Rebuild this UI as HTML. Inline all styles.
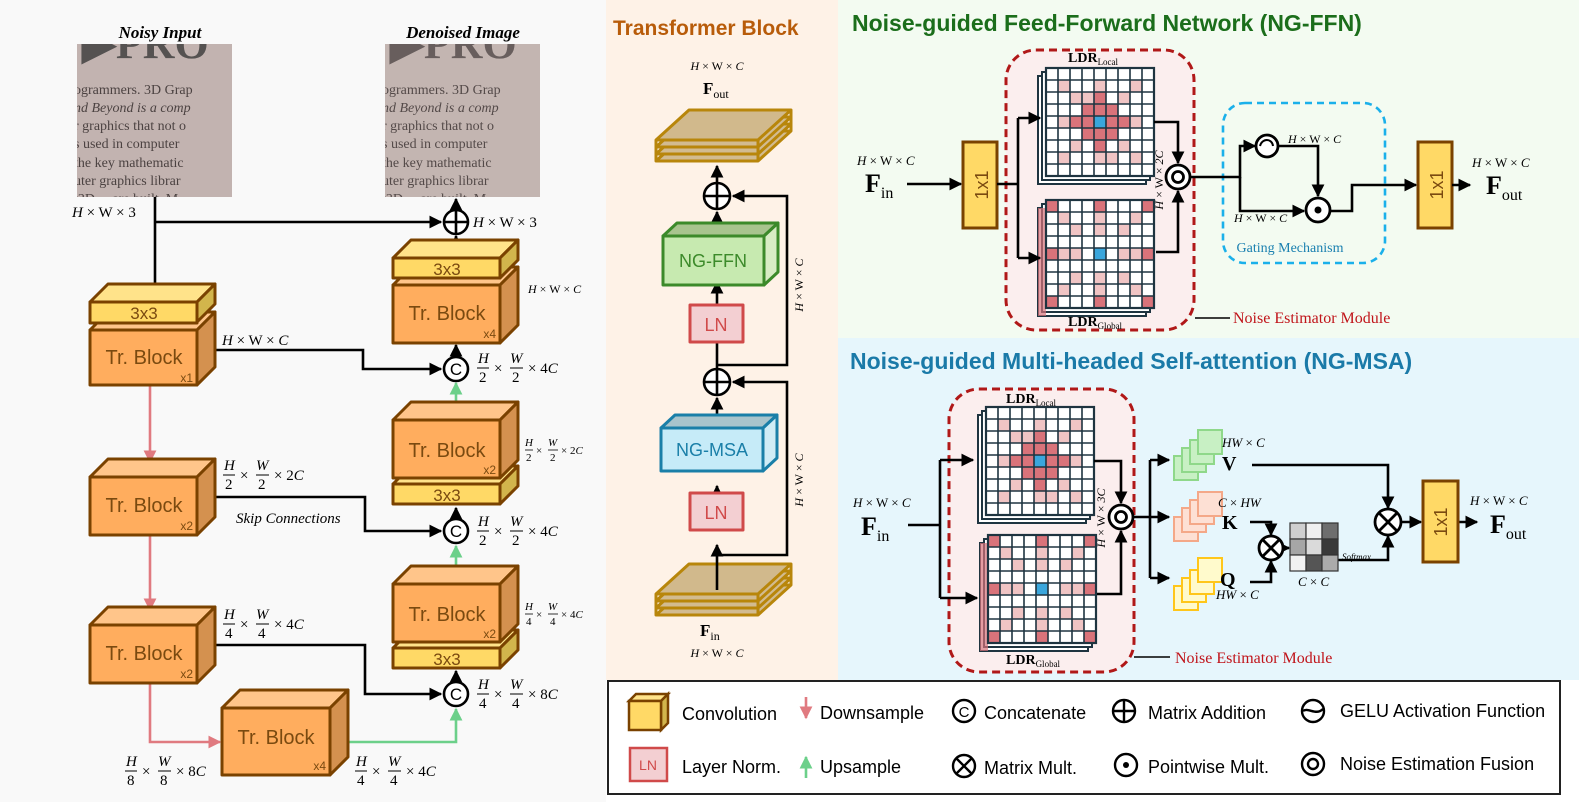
<!DOCTYPE html>
<html><head><meta charset="utf-8"><style>
html,body{margin:0;padding:0;background:#fff}
svg{display:block}
.s{font-family:"Liberation Sans",sans-serif}
.m{font-family:"Liberation Serif",serif;font-style:italic}
.r{font-family:"Liberation Serif",serif}
</style></head><body>
<svg width="1579" height="802" viewBox="0 0 1579 802" xmlns="http://www.w3.org/2000/svg">
<defs>
<marker id="a" viewBox="0 0 10 10" refX="9" refY="5" markerWidth="5" markerHeight="5" orient="auto"><path d="M0,0L10,5L0,10z" fill="#000"/></marker>
<marker id="ap" viewBox="0 0 10 10" refX="9" refY="5" markerWidth="5" markerHeight="5" orient="auto"><path d="M0,0L10,5L0,10z" fill="#e07a80"/></marker>
<marker id="ag" viewBox="0 0 10 10" refX="9" refY="5" markerWidth="5" markerHeight="5" orient="auto"><path d="M0,0L10,5L0,10z" fill="#6cd08a"/></marker>
<g id="gbase">
<rect x="-8" y="8" width="108" height="108" fill="#fff" stroke="#1e3440" stroke-width="2"/>
<rect x="-4" y="4" width="108" height="108" fill="#fff" stroke="#1e3440" stroke-width="2"/>
<rect x="0" y="0" width="108" height="108" fill="#fff"/>
</g>
<g id="glines" stroke="#1e3440" stroke-width="1.6" fill="none">
<path d="M12,0V108M24,0V108M36,0V108M48,0V108M60,0V108M72,0V108M84,0V108M96,0V108M0,12H108M0,24H108M0,36H108M0,48H108M0,60H108M0,72H108M0,84H108M0,96H108"/>
<rect x="0" y="0" width="108" height="108" stroke-width="2.2"/>
</g>
<g id="gloc">
<use href="#gbase"/>
<g fill="#d9737a"><rect x="36" y="36" width="36" height="36"/><rect x="48" y="24" width="12" height="12"/><rect x="48" y="72" width="12" height="12"/><rect x="24" y="48" width="12" height="12"/><rect x="72" y="48" width="12" height="12"/></g>
<g fill="#f0c4c4"><rect x="24" y="24" width="12" height="12"/><rect x="72" y="24" width="12" height="12"/><rect x="24" y="72" width="12" height="12"/><rect x="72" y="72" width="12" height="12"/><rect x="12" y="12" width="12" height="12"/><rect x="84" y="12" width="12" height="12"/><rect x="12" y="84" width="12" height="12"/><rect x="84" y="84" width="12" height="12"/><rect x="48" y="12" width="12" height="12"/><rect x="48" y="84" width="12" height="12"/><rect x="12" y="48" width="12" height="12"/><rect x="84" y="48" width="12" height="12"/><rect x="36" y="24" width="12" height="12"/><rect x="60" y="84" width="12" height="12"/></g>
<rect x="48" y="48" width="12" height="12" fill="#3aa6dc"/>
<use href="#glines"/>
</g>
<g id="gglo">
<use href="#gbase"/>
<rect x="-8" y="8" width="8" height="108" fill="#d9737a" opacity=".7"/>
<g fill="#d9737a"><rect x="0" y="0" width="12" height="12"/><rect x="48" y="0" width="12" height="12"/><rect x="96" y="0" width="12" height="12"/><rect x="0" y="48" width="12" height="12"/><rect x="96" y="48" width="12" height="12"/><rect x="0" y="96" width="12" height="12"/><rect x="48" y="96" width="12" height="12"/><rect x="96" y="96" width="12" height="12"/></g>
<g fill="#f0c4c4"><rect x="12" y="12" width="12" height="12"/><rect x="48" y="12" width="12" height="12"/><rect x="84" y="12" width="12" height="12"/><rect x="24" y="24" width="12" height="12"/><rect x="48" y="24" width="12" height="12"/><rect x="72" y="24" width="12" height="12"/><rect x="12" y="48" width="12" height="12"/><rect x="24" y="48" width="12" height="12"/><rect x="72" y="48" width="12" height="12"/><rect x="84" y="48" width="12" height="12"/><rect x="24" y="72" width="12" height="12"/><rect x="48" y="72" width="12" height="12"/><rect x="72" y="72" width="12" height="12"/><rect x="12" y="84" width="12" height="12"/><rect x="48" y="84" width="12" height="12"/><rect x="84" y="84" width="12" height="12"/></g>
<rect x="48" y="48" width="12" height="12" fill="#3aa6dc"/>
<use href="#glines"/>
</g>
<g id="plates" stroke="#b8860b" stroke-width="3" fill="#d2bb90" stroke-linejoin="round">
<path d="M0,57L33,27H135L102,57Z"/>
<path d="M0,50L33,20H135L102,50Z"/>
<path d="M0,43L33,13H135L102,43Z"/>
<path d="M0,36L33,6H135L102,36Z" fill="#d1b98c"/>
<path d="M0,36V57M102,36V57M135,6V27"/>
</g>
</defs>

<!-- backgrounds -->
<rect x="0" y="0" width="606" height="802" fill="#f9f9f9"/>
<rect x="606" y="0" width="232" height="680" fill="#fef2e7"/>
<rect x="838" y="0" width="741" height="338" fill="#f3fbf1"/>
<rect x="838" y="338" width="741" height="342" fill="#e6f6fc"/>
<rect x="606" y="680" width="973" height="122" fill="#fff"/>

<!-- ========== LEFT PANEL ========== -->
<text x="160" y="38" text-anchor="middle" class="r" font-weight="bold" font-style="italic" font-size="17">Noisy Input</text>
<text x="463" y="38" text-anchor="middle" class="r" font-weight="bold" font-style="italic" font-size="17">Denoised Image</text>
<clipPath id="c1"><rect x="77" y="44" width="155" height="153"/></clipPath>
<clipPath id="c2"><rect x="385" y="44" width="155" height="153"/></clipPath>
<g clip-path="url(#c1)">
<rect x="77" y="44" width="155" height="153" fill="#c2b3b0"/>
<g class="r" fill="#2e2626" opacity=".8" font-size="14">
<text x="82" y="58" font-size="44" font-weight="bold" fill="#3a3a3a">▶PRO</text>
<text x="74" y="94">ogrammers. 3D Grap</text><text x="74" y="112" font-style="italic">nd Beyond is a comp</text><text x="74" y="130">r graphics that not o</text><text x="74" y="148">s used in computer</text><text x="74" y="167">the key mathematic</text><text x="74" y="185">uter graphics librar</text><text x="74" y="203">t3D— are built. M</text></g>
</g>
<g clip-path="url(#c2)">
<rect x="385" y="44" width="155" height="153" fill="#c3b5b1"/>
<g class="r" fill="#2e2626" opacity=".75" font-size="14">
<text x="390" y="58" font-size="44" font-weight="bold" fill="#4a4242">▶PRO</text>
<text x="382" y="94">ogrammers. 3D Grap</text><text x="382" y="112" font-style="italic">nd Beyond is a comp</text><text x="382" y="130">r graphics that not o</text><text x="382" y="148">s used in computer</text><text x="382" y="167">the key mathematic</text><text x="382" y="185">uter graphics librar</text><text x="382" y="203">t3D— are built. M</text></g>
</g>

<g stroke="#000" stroke-width="2.6" fill="none">
<path d="M155,197V294" marker-end="url(#a)"/>
<path d="M155,222H441" marker-end="url(#a)"/>
<path d="M456,240V236" marker-end="url(#a)"/>
<path d="M456,210V199" marker-end="url(#a)"/>
<path d="M207,350H363V369H441" marker-end="url(#a)"/>
<path d="M207,497H365V531H441" marker-end="url(#a)"/>
<path d="M207,645H365V694H441" marker-end="url(#a)"/>
<path d="M456,353V345" marker-end="url(#a)"/>
<path d="M456,516V508" marker-end="url(#a)"/>
<path d="M456,679V671" marker-end="url(#a)"/>
</g>
<g stroke="#e07a80" stroke-width="2.6" fill="none">
<path d="M150,385V462" marker-end="url(#ap)"/>
<path d="M150,535V610" marker-end="url(#ap)"/>
<path d="M150,683V742H220" marker-end="url(#ap)"/>
</g>
<g stroke="#6cd08a" stroke-width="2.6" fill="none">
<path d="M456,405V383" marker-end="url(#ag)"/>
<path d="M456,570V546" marker-end="url(#ag)"/>
<path d="M340,742H456V709" marker-end="url(#ag)"/>
</g>

<g stroke="#7a4200" stroke-width="3" stroke-linejoin="round">
<path d="M90,330L108,312H215L197,330Z" fill="#ffc58a"/><path d="M197,330L215,312V367L197,385Z" fill="#d4914f"/><rect x="90" y="330" width="107" height="55" fill="#ffad5e"/>
<path d="M90,302L108,284H215L197,302Z" fill="#ffe38a"/><path d="M197,302L215,284V304L197,322Z" fill="#d2b54c"/><rect x="90" y="302" width="107" height="21" fill="#ffd966"/>
<path d="M90,477L108,459H215L197,477Z" fill="#ffc58a"/><path d="M197,477L215,459V517L197,535Z" fill="#d4914f"/><rect x="90" y="477" width="107" height="58" fill="#ffad5e"/>
<path d="M90,625L108,607H215L197,625Z" fill="#ffc58a"/><path d="M197,625L215,607V665L197,683Z" fill="#d4914f"/><rect x="90" y="625" width="107" height="58" fill="#ffad5e"/>
<path d="M222,708L240,690H348L330,708Z" fill="#ffc58a"/><path d="M330,708L348,690V757L330,775Z" fill="#d4914f"/><rect x="222" y="708" width="108" height="67" fill="#ffad5e"/>
<path d="M393,285L411,267H518L500,285Z" fill="#ffc58a"/><path d="M500,285L518,267V325L500,343Z" fill="#d4914f"/><rect x="393" y="285" width="107" height="58" fill="#ffad5e"/>
<path d="M393,258L411,240H518L500,258Z" fill="#ffe38a"/><path d="M500,258L518,240V260L500,278Z" fill="#d2b54c"/><rect x="393" y="258" width="107" height="20" fill="#ffd966"/>
<path d="M393,484L411,466H518L500,484Z" fill="#ffe38a"/><path d="M500,484L518,466V486L500,504Z" fill="#d2b54c"/><rect x="393" y="484" width="107" height="20" fill="#ffd966"/>
<path d="M393,420L411,402H518L500,420Z" fill="#ffc58a"/><path d="M500,420L518,402V460L500,478Z" fill="#d4914f"/><rect x="393" y="420" width="107" height="58" fill="#ffad5e"/>
<path d="M393,648L411,630H518L500,648Z" fill="#ffe38a"/><path d="M500,648L518,630V650L500,668Z" fill="#d2b54c"/><rect x="393" y="648" width="107" height="20" fill="#ffd966"/>
<path d="M393,584L411,566H518L500,584Z" fill="#ffc58a"/><path d="M500,584L518,566V624L500,642Z" fill="#d4914f"/><rect x="393" y="584" width="107" height="58" fill="#ffad5e"/>
</g>
<g class="s" fill="#7a4a10">
<text x="144" y="319" text-anchor="middle" font-size="17">3x3</text>
<text x="144" y="364" text-anchor="middle" font-size="20">Tr. Block</text><text x="193" y="382" text-anchor="end" font-size="12">x1</text>
<text x="144" y="512" text-anchor="middle" font-size="20">Tr. Block</text><text x="193" y="530" text-anchor="end" font-size="12">x2</text>
<text x="144" y="660" text-anchor="middle" font-size="20">Tr. Block</text><text x="193" y="678" text-anchor="end" font-size="12">x2</text>
<text x="276" y="744" text-anchor="middle" font-size="20">Tr. Block</text><text x="326" y="770" text-anchor="end" font-size="12">x4</text>
<text x="447" y="275" text-anchor="middle" font-size="17">3x3</text>
<text x="447" y="320" text-anchor="middle" font-size="20">Tr. Block</text><text x="496" y="338" text-anchor="end" font-size="12">x4</text>
<text x="447" y="457" text-anchor="middle" font-size="20">Tr. Block</text><text x="496" y="474" text-anchor="end" font-size="12">x2</text>
<text x="447" y="501" text-anchor="middle" font-size="17">3x3</text>
<text x="447" y="621" text-anchor="middle" font-size="20">Tr. Block</text><text x="496" y="638" text-anchor="end" font-size="12">x2</text>
<text x="447" y="665" text-anchor="middle" font-size="17">3x3</text>
</g>
<g stroke="#000" stroke-width="2.6" fill="#fff">
<circle cx="456" cy="222" r="12"/><path d="M444,222H468M456,210V234" fill="none"/>
<circle cx="456" cy="369" r="12"/><circle cx="456" cy="531" r="12"/><circle cx="456" cy="694" r="12"/>
</g>
<g class="s" font-size="17" text-anchor="middle"><text x="456" y="375">C</text><text x="456" y="537">C</text><text x="456" y="700">C</text></g>

<g class="m" font-size="15" fill="#000">
<text x="72" y="217">H <tspan font-style="normal">× W × 3</tspan></text>
<text x="473" y="227">H <tspan font-style="normal">× W × 3</tspan></text>
<text x="222" y="345">H <tspan font-style="normal">× W ×</tspan> C</text>
<text x="528" y="293" font-size="12">H <tspan font-style="normal">× W ×</tspan> C</text>
<text x="236" y="523">Skip Connections</text>
</g>
<g class="m" fill="#000" font-size="15">
<g transform="translate(478,368)"><text x="0" y="-5">H</text><path d="M-1,0H11" stroke="#000"/><text x="1" y="14" font-style="normal">2</text><text x="16" y="5" font-style="normal">×</text><text x="32" y="-5">W</text><path d="M32,0H45" stroke="#000"/><text x="34" y="14" font-style="normal">2</text><text x="50" y="5" font-style="normal">× 4<tspan font-style="italic">C</tspan></text></g>
<g transform="translate(478,531)"><text x="0" y="-5">H</text><path d="M-1,0H11" stroke="#000"/><text x="1" y="14" font-style="normal">2</text><text x="16" y="5" font-style="normal">×</text><text x="32" y="-5">W</text><path d="M32,0H45" stroke="#000"/><text x="34" y="14" font-style="normal">2</text><text x="50" y="5" font-style="normal">× 4<tspan font-style="italic">C</tspan></text></g>
<g transform="translate(478,694)"><text x="0" y="-5">H</text><path d="M-1,0H11" stroke="#000"/><text x="1" y="14" font-style="normal">4</text><text x="16" y="5" font-style="normal">×</text><text x="32" y="-5">W</text><path d="M32,0H45" stroke="#000"/><text x="34" y="14" font-style="normal">4</text><text x="50" y="5" font-style="normal">× 8<tspan font-style="italic">C</tspan></text></g>
<g transform="translate(224,475)"><text x="0" y="-5">H</text><path d="M-1,0H11" stroke="#000"/><text x="1" y="14" font-style="normal">2</text><text x="16" y="5" font-style="normal">×</text><text x="32" y="-5">W</text><path d="M32,0H45" stroke="#000"/><text x="34" y="14" font-style="normal">2</text><text x="50" y="5" font-style="normal">× 2<tspan font-style="italic">C</tspan></text></g>
<g transform="translate(224,624)"><text x="0" y="-5">H</text><path d="M-1,0H11" stroke="#000"/><text x="1" y="14" font-style="normal">4</text><text x="16" y="5" font-style="normal">×</text><text x="32" y="-5">W</text><path d="M32,0H45" stroke="#000"/><text x="34" y="14" font-style="normal">4</text><text x="50" y="5" font-style="normal">× 4<tspan font-style="italic">C</tspan></text></g>
<g transform="translate(126,771)"><text x="0" y="-5">H</text><path d="M-1,0H11" stroke="#000"/><text x="1" y="14" font-style="normal">8</text><text x="16" y="5" font-style="normal">×</text><text x="32" y="-5">W</text><path d="M32,0H45" stroke="#000"/><text x="34" y="14" font-style="normal">8</text><text x="50" y="5" font-style="normal">× 8<tspan font-style="italic">C</tspan></text></g>
<g transform="translate(356,771)"><text x="0" y="-5">H</text><path d="M-1,0H11" stroke="#000"/><text x="1" y="14" font-style="normal">4</text><text x="16" y="5" font-style="normal">×</text><text x="32" y="-5">W</text><path d="M32,0H45" stroke="#000"/><text x="34" y="14" font-style="normal">4</text><text x="50" y="5" font-style="normal">× 4<tspan font-style="italic">C</tspan></text></g>
<g transform="translate(525,450)" font-size="11"><text x="0" y="-4">H</text><path d="M0,0H8" stroke="#000" stroke-width=".8"/><text x="1" y="11" font-style="normal">2</text><text x="11" y="4" font-style="normal">×</text><text x="23" y="-4">W</text><path d="M23,0H33" stroke="#000" stroke-width=".8"/><text x="25" y="11" font-style="normal">2</text><text x="36" y="4" font-style="normal">× 2<tspan font-style="italic">C</tspan></text></g>
<g transform="translate(525,614)" font-size="11"><text x="0" y="-4">H</text><path d="M0,0H8" stroke="#000" stroke-width=".8"/><text x="1" y="11" font-style="normal">4</text><text x="11" y="4" font-style="normal">×</text><text x="23" y="-4">W</text><path d="M23,0H33" stroke="#000" stroke-width=".8"/><text x="25" y="11" font-style="normal">4</text><text x="36" y="4" font-style="normal">× 4<tspan font-style="italic">C</tspan></text></g>
</g>

<!-- ========== MIDDLE ========== -->
<text x="613" y="35" class="s" font-weight="bold" font-size="21" fill="#b85c0a">Transformer Block</text>
<text x="717" y="70" text-anchor="middle" class="m" font-size="12">H <tspan font-style="normal">× W ×</tspan> C</text>
<text x="703" y="94" class="r" font-weight="bold" font-size="17">F<tspan font-size="12" font-weight="normal" dy="4">out</tspan></text>
<use href="#plates" transform="translate(656,104)"/>
<use href="#plates" transform="translate(656,558)"/>
<text x="700" y="636" class="r" font-weight="bold" font-size="17">F<tspan font-size="12" font-weight="normal" dy="4">in</tspan></text>
<text x="717" y="657" text-anchor="middle" class="m" font-size="12">H <tspan font-style="normal">× W ×</tspan> C</text>
<g stroke="#000" stroke-width="2.6" fill="none">
<path d="M717,590V545" marker-end="url(#a)"/>
<path d="M717,493V486" marker-end="url(#a)"/>
<path d="M717,414V398" marker-end="url(#a)"/>
<path d="M717,305V282" marker-end="url(#a)"/>
<path d="M717,223V212" marker-end="url(#a)"/>
<path d="M717,183V166" marker-end="url(#a)"/>
<path d="M717,555H787V382H733" marker-end="url(#a)"/>
<path d="M717,365H787V196H733" marker-end="url(#a)"/>
<path d="M717,369V342"/>
</g>
<g stroke="#000" stroke-width="2.6" fill="#fff">
<circle cx="717" cy="196" r="13"/><path d="M704,196H730M717,183V209" fill="none"/>
<circle cx="717" cy="382" r="13"/><path d="M704,382H730M717,369V395" fill="none"/>
</g>
<g stroke-width="3" stroke-linejoin="round">
<g stroke="#3c8a2a"><path d="M663,236L677,223H778L764,236Z" fill="#a8c48e"/><path d="M764,236L778,223V272L764,285Z" fill="#d8ecc4"/><rect x="663" y="236" width="101" height="49" fill="#c7eab0"/></g>
<g stroke="#1a7fa8"><path d="M661,428L675,415H777L763,428Z" fill="#a8c4cc"/><path d="M763,428L777,415V458L763,471Z" fill="#d0ecf6"/><rect x="661" y="428" width="102" height="43" fill="#c6ebf8"/></g>
<g stroke="#d04a4a" fill="#f3cfd2"><rect x="690" y="305" width="53" height="37"/><rect x="690" y="493" width="53" height="37"/></g>
</g>
<g class="s" text-anchor="middle" font-size="18">
<text x="713" y="267" fill="#3c8a2a">NG-FFN</text>
<text x="712" y="456" fill="#1a7fa8">NG-MSA</text>
<text x="716" y="331" fill="#d04a4a">LN</text>
<text x="716" y="519" fill="#d04a4a">LN</text>
</g>
<text transform="translate(803,285) rotate(-90)" text-anchor="middle" class="m" font-size="12">H <tspan font-style="normal">× W ×</tspan> C</text>
<text transform="translate(803,480) rotate(-90)" text-anchor="middle" class="m" font-size="12">H <tspan font-style="normal">× W ×</tspan> C</text>

<!-- ========== NG-FFN ========== -->
<text x="852" y="31" class="s" font-weight="bold" font-size="23" fill="#1b6e1b">Noise-guided Feed-Forward Network (NG-FFN)</text>
<rect x="1006" y="50" width="188" height="280" rx="30" fill="#fbeeee" stroke="#b01818" stroke-width="3" stroke-dasharray="8,5"/>
<rect x="1223" y="103" width="162" height="160" rx="22" fill="none" stroke="#1ab0ea" stroke-width="2.6" stroke-dasharray="7,5"/>
<text x="1290" y="252" text-anchor="middle" class="r" font-size="14" fill="#1a80b0">Gating Mechanism</text>
<use href="#gloc" transform="translate(1046,68)"/>
<use href="#gglo" transform="translate(1046,200)"/>
<text x="1068" y="62" class="r" font-weight="bold" font-size="14">LDR<tspan font-size="9" font-weight="normal" dy="3">Local</tspan></text>
<text x="1068" y="326" class="r" font-weight="bold" font-size="14">LDR<tspan font-size="9" font-weight="normal" dy="3">Global</tspan></text>
<text x="857" y="165" class="m" font-size="13">H <tspan font-style="normal">× W ×</tspan> C</text>
<text x="865" y="192" class="r" font-weight="bold" font-size="26">F<tspan font-size="16" font-weight="normal" dy="6">in</tspan></text>
<text x="1472" y="167" class="m" font-size="13">H <tspan font-style="normal">× W ×</tspan> C</text>
<text x="1486" y="194" class="r" font-weight="bold" font-size="26">F<tspan font-size="16" font-weight="normal" dy="6">out</tspan></text>
<g stroke="#7a4200" stroke-width="3" fill="#ffd966"><rect x="963" y="142" width="34" height="86"/><rect x="1418" y="142" width="34" height="86"/></g>
<text transform="translate(988,185) rotate(-90)" text-anchor="middle" class="s" font-size="18" fill="#7a4a10">1x1</text>
<text transform="translate(1443,185) rotate(-90)" text-anchor="middle" class="s" font-size="18" fill="#7a4a10">1x1</text>
<g stroke="#000" stroke-width="2.6" fill="none">
<path d="M907,184H961" marker-end="url(#a)"/>
<path d="M997,184H1018"/><path d="M1018,118V258"/>
<path d="M1018,118H1040" marker-end="url(#a)"/>
<path d="M1018,258H1040" marker-end="url(#a)"/>
<path d="M1154,122H1178V163" marker-end="url(#a)"/>
<path d="M1156,252H1178V191" marker-end="url(#a)"/>
<path d="M1190,177H1240V146H1255" marker-end="url(#a)"/>
<path d="M1240,177V211H1304" marker-end="url(#a)"/>
<path d="M1279,146H1318V196" marker-end="url(#a)"/>
<path d="M1330,211H1352V185H1416" marker-end="url(#a)"/>
<path d="M1452,185H1470" marker-end="url(#a)"/>
<path d="M1195,318H1230" stroke-width="1.4"/>
</g>
<text x="1233" y="323" class="r" font-size="16" fill="#c0141a">Noise Estimator Module</text>
<text transform="translate(1163,180) rotate(-90)" text-anchor="middle" class="m" font-size="12">H <tspan font-style="normal">× W ×</tspan> 2C</text>
<g stroke="#000" stroke-width="2.8" fill="#fff">
<circle cx="1178" cy="177" r="12"/><circle cx="1178" cy="177" r="5.5"/>
<circle cx="1267" cy="146" r="11"/><path d="M1260,146C1262,138 1272,138 1273,146" fill="none" stroke-width="2"/>
<circle cx="1318" cy="210" r="12"/>
</g>
<circle cx="1318" cy="210" r="3.5"/>
<text x="1288" y="143" class="m" font-size="12">H <tspan font-style="normal">× W ×</tspan> C</text>
<text x="1234" y="222" class="m" font-size="12">H <tspan font-style="normal">× W ×</tspan> C</text>

<!-- ========== NG-MSA ========== -->
<text x="850" y="369" class="s" font-weight="bold" font-size="23" fill="#1a7aa8">Noise-guided Multi-headed Self-attention (NG-MSA)</text>
<rect x="949" y="389" width="185" height="283" rx="30" fill="#fbeeee" stroke="#b01818" stroke-width="3" stroke-dasharray="8,5"/>
<use href="#gloc" transform="translate(986,407)"/>
<use href="#gglo" transform="translate(988,535)"/>
<text x="1006" y="403" class="r" font-weight="bold" font-size="14">LDR<tspan font-size="9" font-weight="normal" dy="3">Local</tspan></text>
<text x="1006" y="664" class="r" font-weight="bold" font-size="14">LDR<tspan font-size="9" font-weight="normal" dy="3">Global</tspan></text>
<text x="853" y="507" class="m" font-size="13">H <tspan font-style="normal">× W ×</tspan> C</text>
<text x="861" y="535" class="r" font-weight="bold" font-size="26">F<tspan font-size="16" font-weight="normal" dy="6">in</tspan></text>
<text x="1470" y="505" class="m" font-size="13">H <tspan font-style="normal">× W ×</tspan> C</text>
<text x="1490" y="533" class="r" font-weight="bold" font-size="26">F<tspan font-size="16" font-weight="normal" dy="6">out</tspan></text>
<text transform="translate(1105,518) rotate(-90)" text-anchor="middle" class="m" font-size="12">H <tspan font-style="normal">× W ×</tspan> 3C</text>
<g stroke="#000" stroke-width="2.6" fill="none">
<path d="M908,525H940"/><path d="M940,460V598"/>
<path d="M940,460H973" marker-end="url(#a)"/>
<path d="M940,598H977" marker-end="url(#a)"/>
<path d="M1094,461H1121V503" marker-end="url(#a)"/>
<path d="M1097,594H1121V531" marker-end="url(#a)"/>
<path d="M1133,517H1150"/><path d="M1150,460V578"/>
<path d="M1150,460H1169" marker-end="url(#a)"/>
<path d="M1150,517H1169" marker-end="url(#a)"/>
<path d="M1150,578H1169" marker-end="url(#a)"/>
<path d="M1252,465H1388V508" marker-end="url(#a)"/>
<path d="M1250,522H1271V535" marker-end="url(#a)"/>
<path d="M1250,582H1271V561" marker-end="url(#a)"/>
<path d="M1283,548H1289" marker-end="url(#a)"/>
<path d="M1338,560H1388V536" marker-end="url(#a)"/>
<path d="M1401,522H1421" marker-end="url(#a)"/>
<path d="M1458,522H1477" marker-end="url(#a)"/>
<path d="M1134,657H1170" stroke-width="1.4"/>
</g>
<text x="1175" y="663" class="r" font-size="16" fill="#c0141a">Noise Estimator Module</text>
<g stroke-width="2">
<g stroke="#8fd88a" fill="#c8f0c4"><rect x="1174" y="456" width="24" height="24"/><rect x="1182" y="448" width="24" height="24"/><rect x="1190" y="440" width="24" height="24"/><rect x="1198" y="430" width="24" height="24"/></g>
<g stroke="#f4a888" fill="#fde0d4"><rect x="1174" y="517" width="24" height="24"/><rect x="1182" y="508" width="24" height="24"/><rect x="1190" y="500" width="24" height="24"/><rect x="1198" y="492" width="24" height="24"/></g>
<g stroke="#ffc61a" fill="#fffacc"><rect x="1174" y="586" width="24" height="24"/><rect x="1182" y="578" width="24" height="24"/><rect x="1190" y="570" width="24" height="24"/><rect x="1198" y="558" width="24" height="24"/></g>
</g>
<g class="m" font-size="13"><text x="1222" y="447">HW <tspan font-style="normal">×</tspan> C</text><text x="1218" y="507">C <tspan font-style="normal">×</tspan> HW</text><text x="1216" y="599">HW <tspan font-style="normal">×</tspan> C</text><text x="1298" y="586">C <tspan font-style="normal">×</tspan> C</text><text x="1342" y="560" font-size="9">Softmax</text></g>
<g class="r" font-weight="bold" font-size="20"><text x="1222" y="470">V</text><text x="1222" y="529">K</text><text x="1220" y="586">Q</text></g>
<g stroke="#333" stroke-width="1.2">
<rect x="1290" y="523" width="16" height="16" fill="#cfcfcf"/><rect x="1306" y="523" width="16" height="16" fill="#f0f0f0"/><rect x="1322" y="523" width="16" height="16" fill="#6e6e6e"/>
<rect x="1290" y="539" width="16" height="16" fill="#a6a6a6"/><rect x="1306" y="539" width="16" height="16" fill="#dadada"/><rect x="1322" y="539" width="16" height="16" fill="#3a3a3a"/>
<rect x="1290" y="555" width="16" height="16" fill="#f2f2f2"/><rect x="1306" y="555" width="16" height="16" fill="#555"/><rect x="1322" y="555" width="16" height="16" fill="#ababab"/>
</g>
<g stroke="#000" stroke-width="2.8" fill="#fff">
<circle cx="1121" cy="517" r="12"/><circle cx="1121" cy="517" r="5.5"/>
<circle cx="1271" cy="548" r="12"/><path d="M1263,540L1279,556M1279,540L1263,556" fill="none"/>
<circle cx="1388" cy="522" r="13"/><path d="M1379,513L1397,531M1397,513L1379,531" fill="none"/>
</g>
<g stroke="#7a4200" stroke-width="3" fill="#ffd966"><rect x="1423" y="481" width="35" height="81"/></g>
<text transform="translate(1447,522) rotate(-90)" text-anchor="middle" class="s" font-size="18" fill="#7a4a10">1x1</text>

<!-- ========== LEGEND ========== -->
<rect x="608" y="681" width="952" height="113" fill="#fff" stroke="#222" stroke-width="2"/>
<g stroke="#7a4200" stroke-width="2.5"><path d="M629,701L636,694H668L661,701Z" fill="#ffe38a"/><path d="M661,701L668,694V723L661,730Z" fill="#d2b54c"/><rect x="629" y="701" width="32" height="29" fill="#ffd966"/></g>
<rect x="630" y="748" width="37" height="33" fill="#f3cfd2" stroke="#d04a4a" stroke-width="2.5"/>
<text x="648" y="770" text-anchor="middle" class="s" font-size="14" fill="#d04a4a">LN</text>
<path d="M806,697V718" stroke="#e07a80" stroke-width="2.6" marker-end="url(#ap)"/>
<path d="M806,778V757" stroke="#6cd08a" stroke-width="2.6" marker-end="url(#ag)"/>
<g stroke="#000" stroke-width="2.4" fill="#fff">
<circle cx="964" cy="711" r="11"/>
<circle cx="1124" cy="711" r="11"/><path d="M1113,711H1135M1124,700V722" fill="none"/>
<circle cx="1313" cy="711" r="11"/><path d="M1303,711C1308,707 1316,716 1323,709" fill="none"/>
<circle cx="964" cy="766" r="11"/><path d="M956,758L972,774M972,758L956,774" fill="none"/>
<circle cx="1126" cy="765" r="11"/>
<circle cx="1313" cy="764" r="11"/><circle cx="1313" cy="764" r="5"/>
</g>
<circle cx="1126" cy="765" r="3"/>
<text x="964" y="717" text-anchor="middle" class="s" font-size="15">C</text>
<g class="s" font-size="18" fill="#000">
<text x="682" y="720">Convolution</text><text x="682" y="773">Layer Norm.</text>
<text x="820" y="719">Downsample</text><text x="820" y="773">Upsample</text>
<text x="984" y="719">Concatenate</text><text x="984" y="774">Matrix Mult.</text>
<text x="1148" y="719">Matrix Addition</text><text x="1148" y="773">Pointwise Mult.</text>
<text x="1340" y="717">GELU Activation Function</text><text x="1340" y="770">Noise Estimation Fusion</text>
</g>
</svg>
</body></html>
